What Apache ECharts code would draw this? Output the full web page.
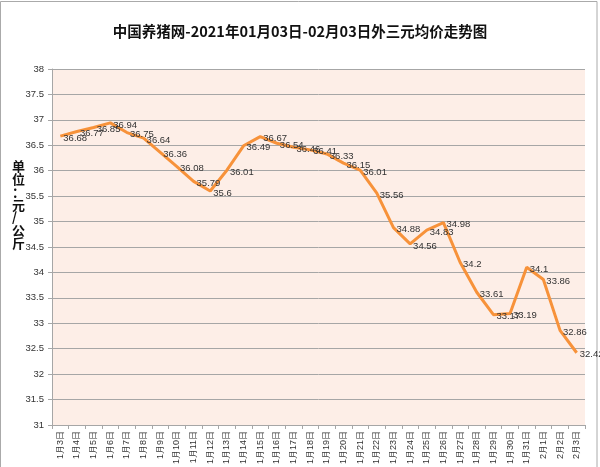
<!DOCTYPE html>
<html>
<head>
<meta charset="utf-8">
<script src="https://cdn.jsdelivr.net/npm/echarts@6/dist/echarts.min.js"></script>
<style>html,body{margin:0;padding:0;background:#fff;}#c{width:600px;height:467px;}</style>
</head>
<body>
<div id="c"></div>
<script>
var categories = ['1月3日','1月4日','1月5日','1月6日','1月7日','1月8日','1月9日','1月10日','1月11日','1月12日','1月13日','1月14日','1月15日','1月16日','1月17日','1月18日','1月19日','1月20日','1月21日','1月22日','1月23日','1月24日','1月25日','1月26日','1月27日','1月28日','1月29日','1月30日','1月31日','2月1日','2月2日','2月3日'];
var prices = [36.68,36.77,36.85,36.94,36.75,36.64,36.36,36.08,35.79,35.6,36.01,36.49,36.67,36.54,36.46,36.41,36.33,36.15,36.01,35.56,34.88,34.56,34.83,34.98,34.2,33.61,33.17,33.19,34.1,33.86,32.86,32.42];
var titleText = '中国养猪网-2021年01月03日-02月03日外三元均价走势图';
var yAxisName = '单位：元/公斤';
var yMin = 31, yMax = 38, yStep = 0.5;

var chart = echarts.init(document.getElementById('c'), null, {renderer: 'canvas'});
chart.setOption({
  backgroundColor: '#ffffff',
  animation: false,
  title: {
    text: titleText,
    left: 'center',
    top: 19,
    textStyle: {fontFamily: 'Noto Sans CJK SC', fontSize: 14.5, fontWeight: 'bold', color: '#111'}
  },
  graphic: [
    {type: 'rect', shape: {x: 0.5, y: 1.5, width: 596.5, height: 470}, style: {fill: 'none', stroke: '#aaaaaa', lineWidth: 1}, silent: true},
    {type: 'text', left: 12, top: 160, style: {text: yAxisName.split('').join('\n'), fontFamily: 'Noto Sans CJK SC', fontSize: 13, fontWeight: 'bold', lineHeight: 12.7, fill: '#111', align: 'center'}}
  ],
  grid: {left: 52, right: 15, top: 69, bottom: 41, show: true, backgroundColor: '#fdeee7', borderWidth: 0},
  xAxis: {
    type: 'category',
    data: categories,
    boundaryGap: true,
    axisLine: {show: true, lineStyle: {color: '#a6a6a6', width: 1}},
    axisTick: {show: true, length: 4, lineStyle: {color: '#a6a6a6'}},
    axisLabel: {rotate: 90, interval: 0, fontSize: 9, color: '#333', fontFamily: 'Liberation Sans', margin: 6}
  },
  yAxis: {
    type: 'value',
    min: yMin, max: yMax, interval: yStep,
    axisLine: {show: true, lineStyle: {color: '#a6a6a6', width: 1}},
    axisTick: {show: true, length: 4, lineStyle: {color: '#a6a6a6'}},
    axisLabel: {fontSize: 9.5, color: '#333', fontFamily: 'Liberation Sans', margin: 8},
    splitLine: {show: true, lineStyle: {color: '#a6a6a6', width: 1}}
  },
  series: [{
    type: 'line',
    data: prices,
    symbol: 'circle',
    symbolSize: 0,
    showSymbol: true,
    lineStyle: {color: '#f7923a', width: 3},
    itemStyle: {color: '#f7923a'},
    label: {show: true, position: 'right', distance: 3, offset: [0, 2], fontSize: 9.5, color: '#333', fontFamily: 'Liberation Sans'}
  }]
});
</script>
</body>
</html>
